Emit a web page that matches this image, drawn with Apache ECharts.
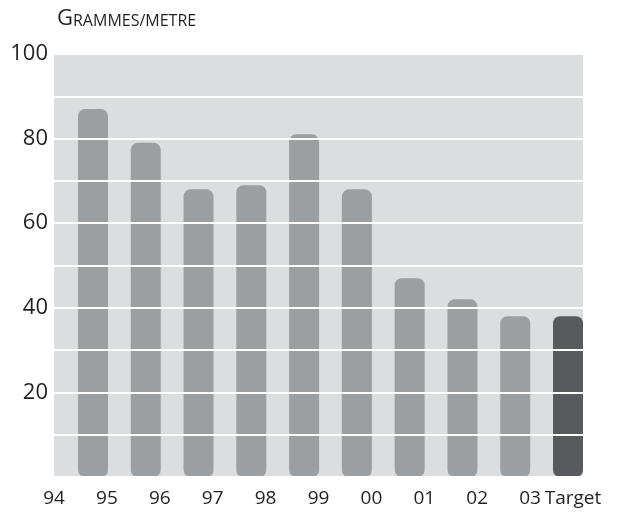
<!DOCTYPE html>
<html>
<head>
<meta charset="utf-8">
<script src="https://cdn.jsdelivr.net/npm/echarts@6/dist/echarts.min.js"></script>
<style>
  html, body { margin: 0; padding: 0; background: #fff; }
  #chart { width: 620px; height: 515px; }
</style>
</head>
<body>
<div id="chart"></div>
<script>
// Data
const years = ['95', '96', '97', '98', '99', '00', '01', '02', '03', 'Target']
const values = [87, 79, 68, 69, 81, 68, 47, 42, 38, 38]
// tick labels sit on the band edges, one more than the bars
const tickLabels = ['94', '95', '96', '97', '98', '99', '00', '01', '02', '03', 'Target']

const textColor = '#231f20'
const fontFamily = '"Open Sans", sans-serif'
const barColor = '#9c9fa2'
const targetColor = '#58595c'

const chart = echarts.init(document.getElementById('chart'))

const option = {
  animation: false,
  title: {
    text: '{a|G}{b|RAMMES/METRE}',
    left: 52,
    top: 3,
    textStyle: {
      fontWeight: 'normal',
      rich: {
        a: { fontSize: 22, fontWeight: 'normal', color: textColor, fontFamily: fontFamily, verticalAlign: 'bottom' },
        b: { fontSize: 16, fontWeight: 'normal', color: textColor, fontFamily: fontFamily, verticalAlign: 'bottom', padding: [0, 0, 1, 0] }
      }
    }
  },
  grid: [
    // background panel, gridlines and labels
    { left: 54, right: 37, top: 54, bottom: 38, show: true, backgroundColor: '#dcdddf', borderWidth: 0 },
    // bars, shifted so each bar sits right of its tick label
    { left: 66.6, right: 25.6, top: 54, bottom: 38 }
  ],
  xAxis: [
    {
      type: 'category',
      gridIndex: 0,
      data: tickLabels,
      boundaryGap: false,
      axisLine: { show: false },
      axisTick: { show: false },
      axisLabel: {
        interval: 0,
        margin: 12,
        fontSize: 19,
        color: textColor,
        fontFamily: fontFamily,
        formatter: v => v === 'Target' ? '{t|' + v + '}' : v,
        rich: {
          t: { fontSize: 19, color: textColor, fontFamily: fontFamily, padding: [0, 20, 0, 0] }
        }
      }
    },
    {
      type: 'category',
      gridIndex: 1,
      data: years,
      show: false
    }
  ],
  yAxis: [
    {
      type: 'value',
      gridIndex: 0,
      min: 0,
      max: 100,
      interval: 10,
      z: 5,
      axisLine: { show: false },
      axisTick: { show: false },
      axisLabel: {
        margin: 6,
        fontSize: 22,
        color: textColor,
        fontFamily: fontFamily,
        formatter: v => (v > 0 && v % 20 === 0) ? String(v) : ''
      },
      splitLine: { lineStyle: { color: '#ffffff', width: 2 } }
    },
    {
      type: 'value',
      gridIndex: 1,
      min: 0,
      max: 100,
      show: false
    }
  ],
  series: [
    {
      type: 'bar',
      xAxisIndex: 1,
      yAxisIndex: 1,
      data: values,
      barWidth: 30,
      z: 2,
      itemStyle: {
        borderRadius: 7,
        color: p => p.name === 'Target' ? targetColor : barColor
      }
    }
  ]
}

chart.setOption(option)
window.addEventListener('resize', () => chart.resize())
</script>
</body>
</html>
